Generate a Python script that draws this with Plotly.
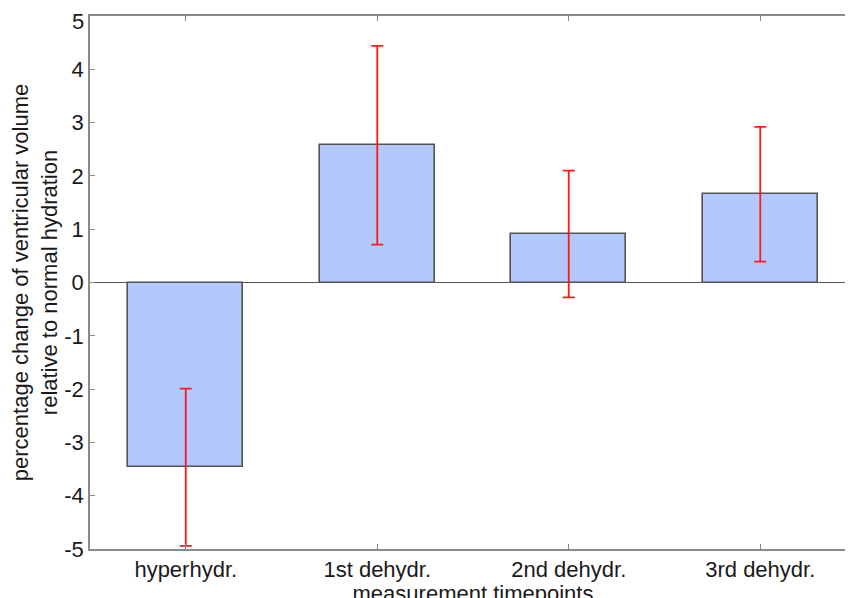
import plotly.graph_objects as go

categories = ["hyperhydr.", "1st dehydr.", "2nd dehydr.", "3rd dehydr."]
positions = [1, 2, 3, 4]
mean_change = [-3.465, 2.575, 0.91, 1.655]
error_change = [1.475, 1.865, 1.19, 1.265]
y_ticks = [-5, -4, -3, -2, -1, 0, 1, 2, 3, 4, 5]
y_tick_labels = ["-5", "-4", "-3", "-2", "-1", "0", "1", "2", "3", "4", ""]
y_top_label = "5"

FONT = "Liberation Sans, Arial, Helvetica, sans-serif"
AXIS_GREY = "#8a8a8a"
FS = 22

fig = go.Figure()
fig.add_trace(go.Bar(
    x=positions,
    y=mean_change,
    width=0.6,
    marker=dict(color="#b3c8ff", line=dict(color="#545454", width=1.6)),
    error_y=dict(type="data", array=error_change, visible=True,
                 color="#ff1a1a", thickness=1.8, width=6),
    showlegend=False,
))

# top tick label drawn slightly inside the figure, as in the original
fig.add_annotation(
    text=y_top_label, xref="paper", yref="y", x=0, y=max(y_ticks),
    xanchor="right", yanchor="middle", xshift=-4, yshift=-5,
    showarrow=False, font=dict(family=FONT, size=FS, color="#1a1a1a"),
)

fig.update_layout(
    width=853, height=598,
    margin=dict(l=82, r=5, t=8, b=57),
    paper_bgcolor="white", plot_bgcolor="white",
    font=dict(family=FONT, size=FS, color="#1a1a1a"),
    xaxis=dict(
        range=[0.5, 4.5], automargin=False,
        tickmode="array", tickvals=positions, ticktext=categories,
        showline=True, linecolor=AXIS_GREY, linewidth=1.5, mirror="ticks",
        ticks="inside", ticklen=5, tickcolor=AXIS_GREY, tickwidth=1,
        showgrid=False, zeroline=False,
        title=dict(text="measurement timepoints", standoff=0,
                   font=dict(family=FONT, size=FS)),
        tickfont=dict(family=FONT, size=FS),
    ),
    yaxis=dict(
        range=[-5, 5], automargin=False,
        tickmode="array", tickvals=y_ticks, ticktext=y_tick_labels,
        showline=True, linecolor=AXIS_GREY, linewidth=1.5, mirror="ticks",
        ticks="inside", ticklen=5, tickcolor=AXIS_GREY, tickwidth=1,
        showgrid=False,
        zeroline=True, zerolinecolor="#555555", zerolinewidth=1.2,
        title=dict(text="percentage change of ventricular volume<br>relative to normal hydration",
                   standoff=6, font=dict(family=FONT, size=FS)),
        tickfont=dict(family=FONT, size=FS),
    ),
    bargap=0,
)

fig.write_html("out.html")
